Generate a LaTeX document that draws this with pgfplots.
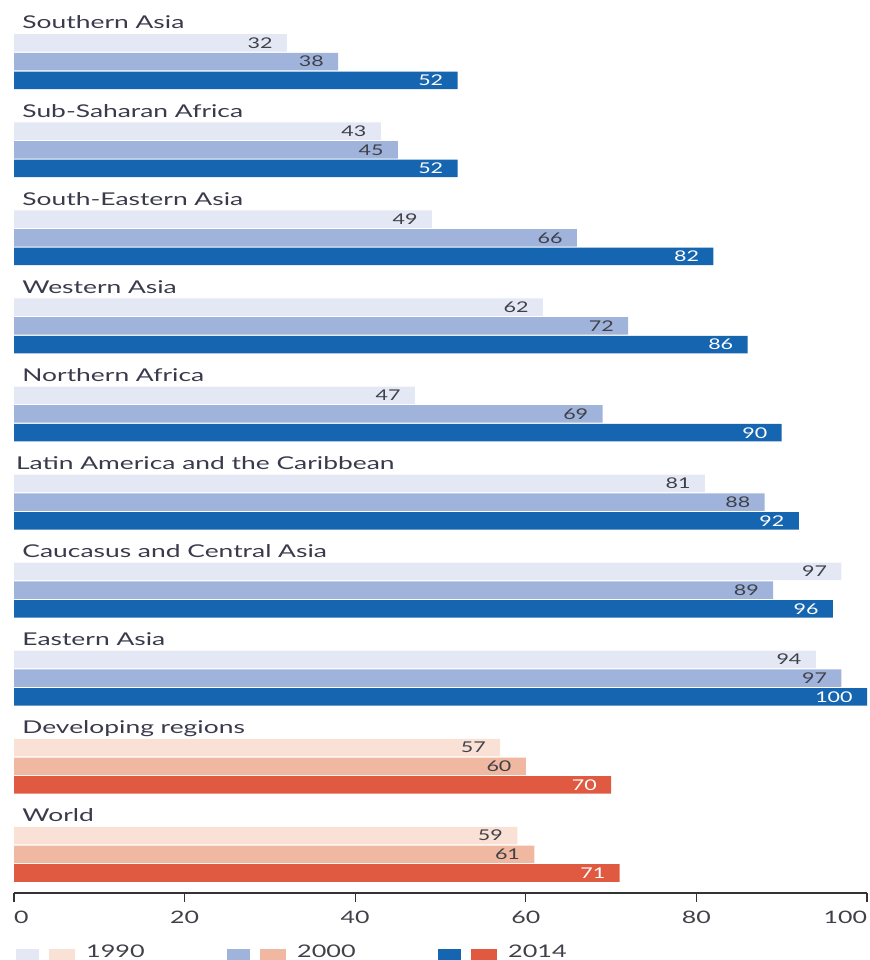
\documentclass[border=0pt]{standalone}
\usepackage{pgfplots}
\pgfplotsset{compat=1.18}
\usepackage{fontspec}
\setmainfont{Lato}[FakeStretch=1.45]
\definecolor{bA}{HTML}{E3E8F4}
\definecolor{bB}{HTML}{9FB3DB}
\definecolor{bC}{HTML}{1565B0}
\definecolor{rA}{HTML}{F9E1D6}
\definecolor{rB}{HTML}{F0B8A0}
\definecolor{rC}{HTML}{E05A42}
\definecolor{numc}{HTML}{404048}
\definecolor{labc}{HTML}{3A3A4C}
\begin{document}
\begin{tikzpicture}
\path[use as bounding box] (0,0) rectangle (434.5pt,480pt);
\begin{axis}[
  at={(7pt,33.5pt)}, anchor=south west,
  scale only axis, width=426.5pt, height=446.5pt,
  xmin=0, xmax=100, ymin=-893, ymax=0,
  axis y line=none, axis x line=bottom,
  x axis line style={-, line width=0.6pt, color=black!80},
  xtick={0,20,40,60,80,100},
  xticklabels={\makebox[0pt][l]{0},20,40,60,80,\makebox[0pt][r]{100}},
  tick align=outside, major tick length=4.5pt,
  xtick style={line width=0.6pt, color=black!80},
  /pgf/number format/assume math mode=true,
  xticklabel style={font=\fontsize{8.6}{10}\selectfont, text=numc, yshift=-1pt},
  clip=false,
  xbar, bar width=17.5, bar shift=0pt,
  point meta=x,
  nodes near coords,
  nodes near coords style={anchor=east, inner sep=0pt, xshift=-7pt, font=\fontsize{7.4}{9}\selectfont, text=numc},
  legend style={at={(axis cs:-0.56,-940)}, anchor=north west, draw=none, fill=none,
    legend columns=3, nodes={inner sep=0pt, font=\fontsize{8.7}{10}\selectfont, text=numc},
    /tikz/every odd column/.append style={column sep=5.5pt},
    /tikz/every even column/.append style={column sep=41pt}},
]
\addplot[fill=bA, draw=none, forget plot] coordinates {
 (32,-43) (43,-131.1) (49,-219.1) (62,-307.2) (47,-395.3) (81,-483.4) (97,-571.4) (94,-659.5)};
\addplot[fill=bB, draw=none, forget plot] coordinates {
 (38,-61.7) (45,-149.8) (66,-237.8) (72,-325.9) (69,-414.0) (88,-502.1) (89,-590.1) (97,-678.2)};
\addplot[fill=bC, draw=none, forget plot, nodes near coords style={text=white}] coordinates {
 (52,-80.4) (52,-168.5) (82,-256.5) (86,-344.6) (90,-432.7) (92,-520.8) (96,-608.8) (100,-696.9)};
\addplot[fill=rA, draw=none, legend image code/.code={
  \fill[bA] (0pt,-8.25pt) rectangle (11.75pt,1.75pt);
  \fill[rA] (16.75pt,-8.25pt) rectangle (29.75pt,1.75pt);}] coordinates {
 (57,-747.6) (59,-835.6)};
\addlegendentry{1990}
\addplot[fill=rB, draw=none, legend image code/.code={
  \fill[bB] (0pt,-8.25pt) rectangle (11.75pt,1.75pt);
  \fill[rB] (16.75pt,-8.25pt) rectangle (29.75pt,1.75pt);}] coordinates {
 (60,-766.3) (61,-854.3)};
\addlegendentry{2000}
\addplot[fill=rC, draw=none, nodes near coords style={text=white}, legend image code/.code={
  \fill[bC] (0pt,-8.25pt) rectangle (11.75pt,1.75pt);
  \fill[rC] (16.75pt,-8.25pt) rectangle (29.75pt,1.75pt);}] coordinates {
 (70,-785.0) (71,-873.0)};
\addlegendentry{2014}
\begin{scope}[every node/.style={anchor=base west, inner sep=0pt, font=\fontsize{8.8}{10}\selectfont\addfontfeatures{FakeStretch=1.5}, text=labc}]
\node at (axis cs:0.94,-29) {Southern Asia};
\node at (axis cs:0.94,-117.1) {Sub-Saharan Africa};
\node at (axis cs:0.94,-205.1) {South-Eastern Asia};
\node at (axis cs:0.94,-293.2) {Western Asia};
\node at (axis cs:0.94,-381.3) {Northern Africa};
\node at (axis cs:0.2,-469.4) {Latin America and the Caribbean};
\node at (axis cs:0.94,-557.4) {Caucasus and Central Asia};
\node at (axis cs:0.94,-645.5) {Eastern Asia};
\node at (axis cs:0.94,-733.6) {Developing regions};
\node at (axis cs:0.94,-821.6) {World};
\end{scope}
\end{axis}
\end{tikzpicture}
\end{document}
